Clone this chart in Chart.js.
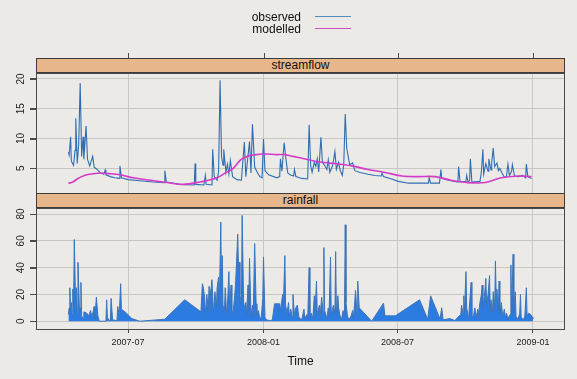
<!DOCTYPE html>
<html>
<head>
<meta charset="utf-8">
<script src="https://cdn.jsdelivr.net/npm/chart.js@4.4.1/dist/chart.umd.min.js"></script>
<style>
  body { margin: 0; background: #ECEAE7; font-family: "Liberation Sans", Arial, sans-serif; }
  #wrap { position: relative; width: 577px; height: 379px; overflow: hidden; }
  canvas { position: absolute; left: 0; }
  .strip { position: absolute; left: 36px; width: 529px; height: 15px; box-sizing: border-box;
           background: #E8B68B; border: 1px solid #3c3c3c; font-size: 12px; line-height: 13px;
           text-align: center; color: #111; }
  .legtext { position: absolute; left: 200px; width: 101px; text-align: right; font-size: 12px;
             line-height: 14px; color: #111; }
  .legline { position: absolute; left: 315px; width: 36px; height: 0; }
</style>
</head>
<body>
<div id="wrap">
  <canvas id="flowChart" width="577" height="200" style="top:0px"></canvas>
  <canvas id="rainChart" width="577" height="189" style="top:190px"></canvas>
  <div class="strip" style="top:58px">streamflow</div>
  <div class="strip" style="top:193px">rainfall</div>
  <div class="legtext" style="top:10px">observed</div>
  <div class="legtext" style="top:22px">modelled</div>
  <div class="legline" style="top:16px; border-top:1.5px solid #4D8CBE"></div>
  <div class="legline" style="top:28px; border-top:1.5px solid #D04CC4"></div>
</div>
<script>
// days counted from 2007-01-01
const tickDays = [181, 365, 547, 731];
const tickLabels = ['2007-07', '2008-01', '2008-07', '2009-01'];
const flowTicks = [5, 10, 15, 20];
const rainTicks = [0, 20, 40, 60, 80];

const flowDays = [
  100,101,103,104,107,109,110,112,114,116,
  118,120,121,124,126,129,133,135,139,143,
  148,150,151,157,163,169,170,172,181,197,
  215,230,231,233,252,271,272,273,284,286,
  287,295,296,298,302,304,306,308,310,311,
  314,316,318,320,323,329,335,339,341,346,
  348,350,353,357,360,363,365,367,372,383,
  387,388,390,393,396,398,401,406,407,409,
  417,425,427,429,431,434,436,438,440,443,
  445,448,451,453,455,459,462,464,467,469,
  472,474,476,478,480,482,486,489,496,507,
  516,525,526,528,539,548,562,589,590,592,
  604,606,607,616,629,630,632,640,641,643,
  645,646,648,659,661,663,664,667,670,671,
  674,675,677,679,682,684,686,689,692,695,
  697,699,702,703,706,711,717,721,722,724,
  729
];
const flowObserved = [
  7.7,7.2,10.3,6.2,5.5,8.0,13.4,5.8,9.0,19.3,
  7.0,10.3,6.5,12.1,6.5,5.4,7.0,5.2,4.8,4.3,
  4.0,4.7,3.9,3.6,3.4,3.3,5.4,3.4,3.1,2.9,
  2.7,2.6,4.6,2.7,2.3,2.2,5.8,2.3,2.2,3.8,
  2.3,2.2,8.2,3.6,3.0,4.5,19.8,7.0,5.5,8.2,
  4.3,5.7,4.0,6.3,3.6,3.1,3.0,9.4,3.6,9.5,
  4.2,12.4,5.2,4.2,3.6,3.4,9.9,4.6,3.9,3.4,
  3.6,6.6,4.5,9.3,6.0,4.2,3.9,3.7,4.8,3.6,
  3.3,3.2,12.3,5.5,4.3,6.0,5.3,6.6,4.4,10.2,
  6.0,5.5,4.8,6.4,4.3,5.5,7.8,4.8,6.0,4.7,
  3.8,5.6,14.1,8.4,7.0,5.6,5.9,4.6,4.3,4.0,
  3.8,3.7,4.2,3.6,3.2,2.8,2.5,2.5,3.4,2.5,
  2.5,4.8,3.3,3.0,2.7,5.3,2.7,2.8,3.8,2.6,
  3.0,6.6,2.7,2.8,4.5,8.2,4.0,5.8,4.5,6.6,
  4.7,6.0,8.4,5.3,5.9,4.6,5.0,4.2,3.5,3.6,
  5.7,3.8,4.5,5.6,3.7,3.6,3.8,3.4,5.7,3.6,
  3.3
];

const modelDays = [
  100,106,112,118,125,135,143,155,170,188,
  211,234,256,279,290,302,313,324,334,343,
  355,365,383,394,405,417,439,462,485,507,
  530,553,575,598,620,643,666,688,711,729
];
const flowModelled = [
  2.5,2.7,3.2,3.6,3.9,4.1,4.2,4.1,3.9,3.4,
  3.0,2.6,2.3,2.7,3.0,3.4,4.2,5.0,6.4,7.0,
  7.3,7.4,7.3,7.3,7.0,6.7,6.1,5.8,5.4,4.8,
  4.3,3.7,3.6,3.6,3.0,2.6,2.6,3.4,3.7,3.6
];

const rainDays = [
  100,101,102,103,104,105,106,107,108,110,
  111,112,113,115,116,117,118,120,121,125,
  128,130,132,135,136,138,140,142,151,152,
  153,155,157,158,160,166,167,169,171,172,
  179,186,197,231,258,280,282,283,285,286,
  288,290,291,293,295,297,299,301,302,304,
  305,307,308,309,310,312,313,315,316,318,
  319,321,322,324,326,327,329,330,331,332,
  333,335,336,338,339,341,342,344,345,346,
  348,350,351,353,355,356,358,360,362,364,
  365,367,369,374,377,380,387,388,391,392,
  394,395,397,399,400,402,404,405,407,409,
  411,413,417,420,421,424,425,427,428,430,
  432,434,435,437,438,441,442,444,446,447,
  448,451,453,454,456,457,460,462,463,464,
  466,467,469,471,473,475,476,477,479,481,
  484,486,487,489,490,492,493,495,512,528,
  530,544,577,588,592,603,605,607,609,618,
  625,629,633,634,636,637,638,640,641,643,
  644,647,648,650,652,654,656,657,659,661,
  662,663,665,667,668,670,672,673,674,676,
  677,679,680,681,682,684,685,686,688,690,
  692,694,695,697,700,701,702,704,705,707,
  708,711,713,714,715,718,720,722,723,725,
  728,730,731
];
const rainfall = [
  5,10,25,8,14,5,24,10,61,8,
  25,6,44,8,10,29,4,2,7,6,
  4,8,3,11,2,18,4,0,0,16,
  3,0.5,1,17,1,0.5,11,4,28,9,
  6,2,0,1.5,16,7,28,26,18,5,
  20,8,26,20,31,6,22,10,25,33,
  12,74,20,49,12,8,25,5,12,37,
  10,27,5,8,20,27,52,65,40,44,
  20,12,79,15,10,14,5,27,8,47,
  4,12,3,58,13,5,8,2,3,17,
  48,3,1,0.5,1,13,13,8,20,12,
  49,12,6,14,4,9,3,20,5,10,
  12,3,1,9,2,5,1,40,4,6,
  2,19,8,30,5,12,4,18,6,55,
  8,2,10,4,48,5,12,6,52,6,
  19,10,4,1,8,4,72,14,4,1,
  4,8,2,15,23,6,30,10,0,13.5,
  4,4,16,1.5,19,4,2,10,1,2,
  0.5,3,5,12,6,19,8,37,10,3,
  6,29,4,3,10,3,9,5,14,20,
  27,10,18,32,12,20,34,8,16,6,
  22,10,45,20,24,8,30,6,14,3,
  9,2,6,2,5,42,6,50,8,22,
  3,2,6,20,3,1,4,25,4,6,
  5,3,2
];

const gridColor = '#C9C7C4';
const axisColor = '#4A4A4A';
const textColor = '#222';

Chart.defaults.font.family = '"Liberation Sans", Arial, sans-serif';
Chart.defaults.animation = false;

function toPoints(xs, ys) {
  return xs.map((x, i) => ({x: x, y: ys[i]}));
}

function xAxis(showLabels) {
  return {
    type: 'linear', min: 56, max: 774.5,
    afterBuildTicks: s => { s.ticks = tickDays.map(v => ({value: v})); },
    afterFit: s => { s.height = showLabels ? 50 : 0; },
    grid: {color: gridColor, drawTicks: showLabels, tickLength: 4, tickColor: axisColor},
    border: {display: false},
    ticks: {display: showLabels, padding: 4, maxRotation: 0, autoSkip: false,
            color: textColor, font: {size: 9}, callback: (v, i) => tickLabels[i]},
    title: {display: showLabels, text: 'Time', color: '#111', font: {size: 12},
            padding: {top: 0, bottom: 10}}
  };
}

// y labels are drawn rotated by the frame plugin, so the scale keeps only its ticks
function yAxis(min, max, values) {
  return {
    min: min, max: max,
    afterBuildTicks: s => { s.ticks = values.map(v => ({value: v})); },
    afterFit: s => { s.width = 36; },
    grid: {color: gridColor, tickLength: 6, tickColor: axisColor},
    border: {display: false},
    ticks: {display: false}
  };
}

const framePlugin = {
  id: 'frame',
  afterDraw(chart, args, opts) {
    const {ctx, chartArea: a, scales} = chart;
    ctx.save();
    ctx.strokeStyle = axisColor;
    ctx.lineWidth = 1;
    ctx.strokeRect(a.left + 0.5, a.top + 0.5, a.width - 1, a.height);

    // left tick marks + rotated labels
    ctx.beginPath();
    scales.y.ticks.forEach(t => {
      const py = Math.round(scales.y.getPixelForValue(t.value)) + 0.5;
      ctx.moveTo(a.left - 6, py);
      ctx.lineTo(a.left, py);
    });
    ctx.stroke();
    ctx.fillStyle = textColor;
    ctx.font = '10px "Liberation Sans", Arial, sans-serif';
    ctx.textAlign = 'center';
    ctx.textBaseline = 'middle';
    scales.y.ticks.forEach(t => {
      ctx.save();
      ctx.translate(21.5, scales.y.getPixelForValue(t.value));
      ctx.rotate(-Math.PI / 2);
      ctx.fillText(String(t.value), 0, 0);
      ctx.restore();
    });

    if (opts.topTicks) {
      ctx.beginPath();
      scales.x.ticks.forEach(t => {
        const px = Math.round(scales.x.getPixelForValue(t.value)) + 0.5;
        ctx.moveTo(px, a.top - 20);
        ctx.lineTo(px, a.top - 15);
      });
      ctx.stroke();
    }
    ctx.restore();
  }
};

new Chart(document.getElementById('flowChart'), {
  type: 'line',
  data: {
    datasets: [
      {label: 'modelled', data: toPoints(modelDays, flowModelled), borderColor: '#D23CC8',
       borderWidth: 1.6, pointRadius: 0, tension: 0.3},
      {label: 'observed', data: toPoints(flowDays, flowObserved), borderColor: '#2F6DB2',
       borderWidth: 1.1, pointRadius: 0, tension: 0}
    ]
  },
  options: {
    responsive: false,
    devicePixelRatio: 1,
    layout: {padding: {top: 73, right: 12, bottom: 7, left: 0}},
    scales: {x: xAxis(false), y: yAxis(0.85, 21, flowTicks)},
    plugins: {legend: {display: false}, tooltip: {enabled: false}, frame: {topTicks: true}}
  },
  plugins: [framePlugin]
});

new Chart(document.getElementById('rainChart'), {
  type: 'line',
  data: {
    datasets: [
      {label: 'rainfall', data: toPoints(rainDays, rainfall), borderColor: '#3B74BA',
       backgroundColor: '#2C7BE0', fill: 'origin', borderWidth: 1, pointRadius: 0, tension: 0}
    ]
  },
  options: {
    responsive: false,
    devicePixelRatio: 1,
    layout: {padding: {top: 18, right: 12, bottom: 0, left: 0}},
    scales: {x: xAxis(true), y: yAxis(-5.8, 84.5, rainTicks)},
    plugins: {legend: {display: false}, tooltip: {enabled: false}, frame: {topTicks: false}}
  },
  plugins: [framePlugin]
});
</script>
</body>
</html>
